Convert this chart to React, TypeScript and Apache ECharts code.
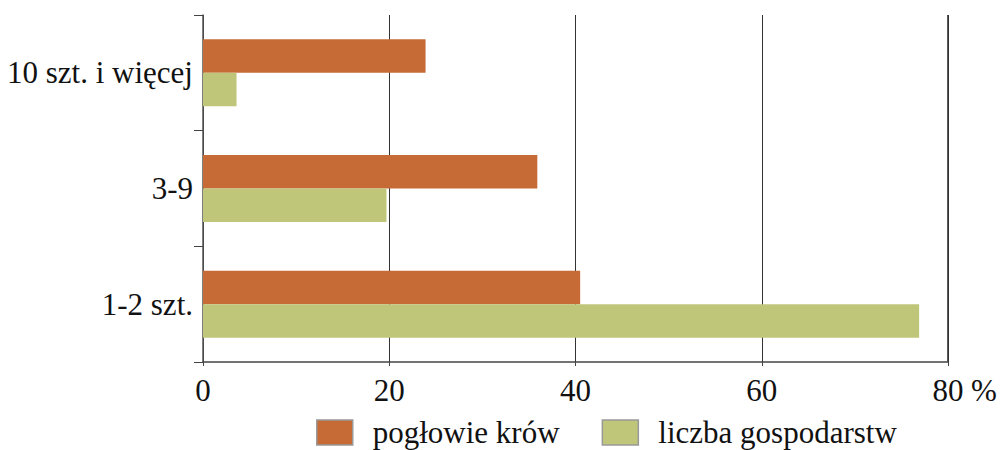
import React, { useEffect, useRef } from "react";
import * as echarts from "echarts";

const categories = ["1-2 szt.", "3-9", "10 szt. i więcej"];
const seriesNames = ["pogłowie krów", "liczba gospodarstw"];
const cowValues = [40.5, 35.9, 23.9];
const farmValues = [76.9, 19.7, 3.6];
const xTicks = { min: 0, max: 80, interval: 20 };

const ORANGE = "#C66B36";
const GREEN = "#BFC67A";
const FONT = "Liberation Serif";
const FS = 31;

export default function App() {
  const ref = useRef<HTMLDivElement>(null);
  useEffect(() => {
    if (!ref.current) return;
    const chart = echarts.init(ref.current, null, { renderer: "svg" });
    chart.setOption({
      animation: false,
      textStyle: { fontFamily: FONT, fontSize: FS, color: "#111" },
      grid: { left: 203, right: 53, top: 15, bottom: 88, containLabel: false },
      legend: {
        left: 316,
        top: 417,
        padding: 0,
        itemWidth: 36,
        itemHeight: 25,
        itemGap: 42,
        icon: "rect",
        data: seriesNames,
        itemStyle: { borderColor: "#999", borderWidth: 1.5 },
        textStyle: { fontFamily: FONT, fontSize: FS, color: "#111", padding: [0, 0, 0, 15] },
      },
      xAxis: {
        type: "value",
        min: xTicks.min,
        max: xTicks.max,
        interval: xTicks.interval,
        axisLine: { show: true, lineStyle: { color: "#444", width: 1.5 } },
        axisTick: { show: true, length: 4, lineStyle: { color: "#444" } },
        splitLine: { show: true, lineStyle: { color: "#333", width: 1 } },
        axisLabel: {
          fontFamily: FONT,
          fontSize: FS,
          color: "#111",
          margin: 13,
        },
      },
      yAxis: {
        type: "category",
        data: categories,
        axisLine: { show: true, lineStyle: { color: "#555", width: 1.5 } },
        axisTick: { show: true, length: 9, inside: false, lineStyle: { color: "#444" } },
        axisLabel: {
          fontFamily: FONT,
          fontSize: FS,
          color: "#111",
          margin: 10,
          padding: [7, 0, 0, 0],
        },
      },
      graphic: [
        {
          type: "text",
          left: 971,
          top: 375,
          style: { text: "%", fontFamily: FONT, fontSize: FS, fill: "#111" },
        },
        {
          type: "line",
          shape: { x1: 948, y1: 15, x2: 948, y2: 362 },
          style: { stroke: "#222", lineWidth: 1.5 },
        },
      ],
      series: [
        {
          name: seriesNames[0],
          type: "bar",
          data: cowValues,
          barWidth: 33.5,
          barGap: "0%",
          itemStyle: { color: ORANGE },
        },
        {
          name: seriesNames[1],
          type: "bar",
          data: farmValues,
          barWidth: 33.5,
          barGap: "0%",
          itemStyle: { color: GREEN },
        },
      ],
    });
    return () => chart.dispose();
  }, []);
  return (
    <div
      ref={ref}
      style={{ position: "absolute", left: 0, top: 0, width: 1001, height: 450 }}
    />
  );
}
